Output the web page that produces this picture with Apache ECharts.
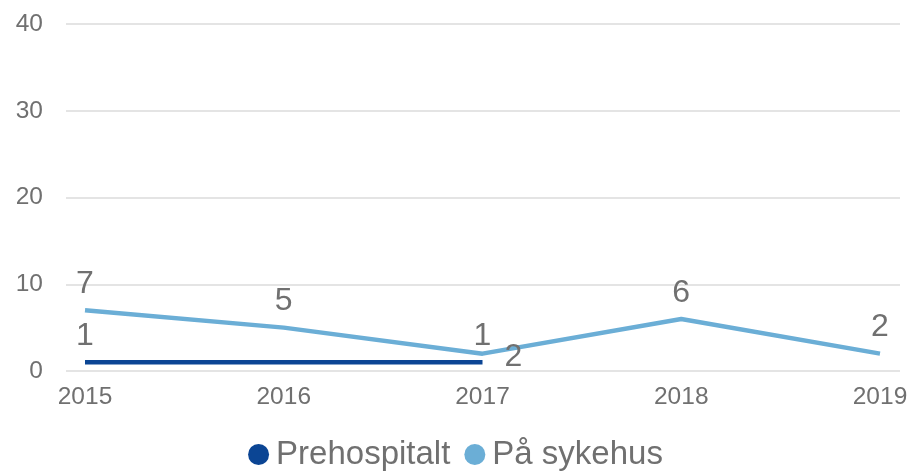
<!DOCTYPE html>
<html><head><meta charset="utf-8">
<script src="https://cdn.jsdelivr.net/npm/echarts@6/dist/echarts.min.js"></script>
<style>html,body{margin:0;padding:0;background:#fff}#c{width:911px;height:471px}</style>
</head><body><div id="c"></div>
<script>
const categories = ['2015','2016','2017','2018','2019'];
const prehospitalt = [1, 1, 1, null, null];
const paSykehus = [7, 5, 2, 6, 2];
const yTicks = [0, 10, 20, 30, 40];

const txt = '#707070';
const font = 'Liberation Sans, Arial, sans-serif';
const chart = echarts.init(document.getElementById('c'));
chart.setOption({
  animation: false,
  grid: [
    {left: 66, right: 11, top: 24, bottom: 100},
    {left: 85, right: 31, top: 24, bottom: 100}
  ],
  xAxis: [
    {gridIndex: 0, type: 'value', show: false, min: 0, max: 1},
    {gridIndex: 1, type: 'category', data: categories, boundaryGap: false,
     axisLine: {show: false}, axisTick: {show: false},
     axisLabel: {color: txt, fontSize: 24.5, fontFamily: font, margin: 14}}
  ],
  yAxis: [
    {gridIndex: 0, type: 'value', min: yTicks[0], max: yTicks[yTicks.length-1], interval: 10,
     axisLine: {show: false}, axisTick: {show: false},
     axisLabel: {color: txt, fontSize: 24.5, fontFamily: font, margin: 23},
     splitLine: {lineStyle: {color: '#e4e4e4', width: 2}}},
    {gridIndex: 1, type: 'value', min: 0, max: 40, show: false, splitLine: {show: false}}
  ],
  legend: {
    left: 'center', top: 433, icon: 'circle', itemWidth: 21, itemHeight: 21, itemGap: 14,
    textStyle: {color: txt, fontSize: 33, fontFamily: font, padding: [0,0,0,2]},
    data: ['Prehospitalt', 'På sykehus']
  },
  series: [
    {name: 'Prehospitalt', type: 'line', xAxisIndex: 1, yAxisIndex: 1,
     data: prehospitalt.map((v, i) => i === 1 ? {value: v, label: {show: false}} : v),
     symbol: 'circle', symbolSize: 0.1, showSymbol: true,
     lineStyle: {color: '#0B4594', width: 4.5}, itemStyle: {color: '#0B4594'},
     label: {show: true, position: 'top', distance: 10, color: txt, fontSize: 32, fontFamily: font}},
    {name: 'På sykehus', type: 'line', xAxisIndex: 1, yAxisIndex: 1,
     data: paSykehus.map((v, i) => i === 2 ? {value: v, label: {position: 'right', distance: 22, offset: [0, 4]}} : v),
     symbol: 'circle', symbolSize: 0.1, showSymbol: true,
     lineStyle: {color: '#6BAED6', width: 4.5}, itemStyle: {color: '#6BAED6'},
     label: {show: true, position: 'top', distance: 10, color: txt, fontSize: 32, fontFamily: font}}
  ]
});
</script></body></html>
